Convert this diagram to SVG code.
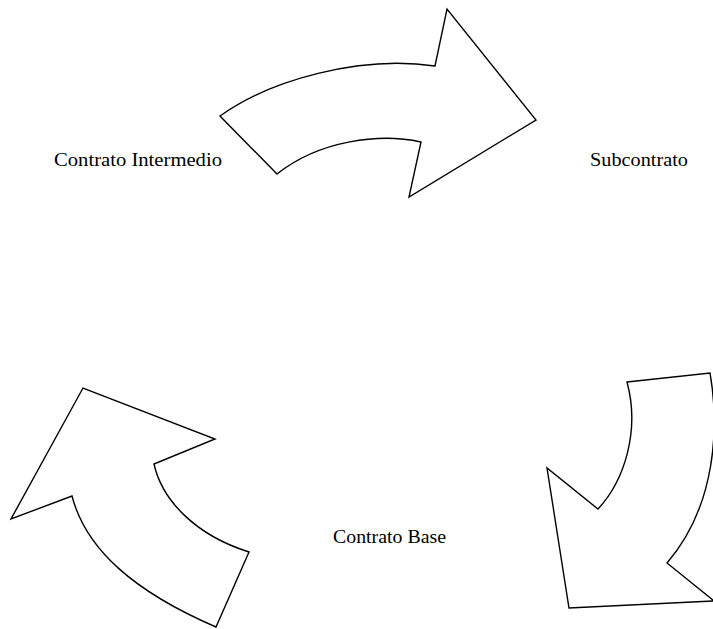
<svg xmlns="http://www.w3.org/2000/svg" width="713" height="629" viewBox="0 0 713 629">
<style>
.arrow{fill:#ffffff;stroke:#000000;stroke-width:1.4;stroke-linejoin:miter}
.lbl{font-family:"Liberation Serif","Times New Roman",serif;font-size:18px;fill:#000000;text-anchor:middle}
</style>
<rect width="713" height="629" fill="#ffffff"/>
<g id="connectors">
<path id="arrow-top" class="arrow" d="M220,116 C270,80 360,55 435,66 L447,9 L536,120 L409,197 L421,142 C380,133 320,140 277,174 Z"/>
<path id="arrow-right" class="arrow" d="M627,382 L710,373 C719,425 717,505 667,563 L714,601 L569,608 L547,468 L598,509 C625,480 640,430 627,382 Z"/>
<path id="arrow-left" class="arrow" d="M249,552 L216,627 C135,592 86,550 72,496 L11,519 L83,388 L215,439 L154,464 C162,500 195,535 249,552 Z"/>
</g>
<g id="node-intermedio"><text class="lbl" x="138" y="166" textLength="168" lengthAdjust="spacingAndGlyphs">Contrato Intermedio</text></g>
<g id="node-subcontrato"><text class="lbl" x="639" y="166" textLength="98" lengthAdjust="spacingAndGlyphs">Subcontrato</text></g>
<g id="node-base"><text class="lbl" x="389.5" y="543" textLength="113" lengthAdjust="spacingAndGlyphs">Contrato Base</text></g>
</svg>
